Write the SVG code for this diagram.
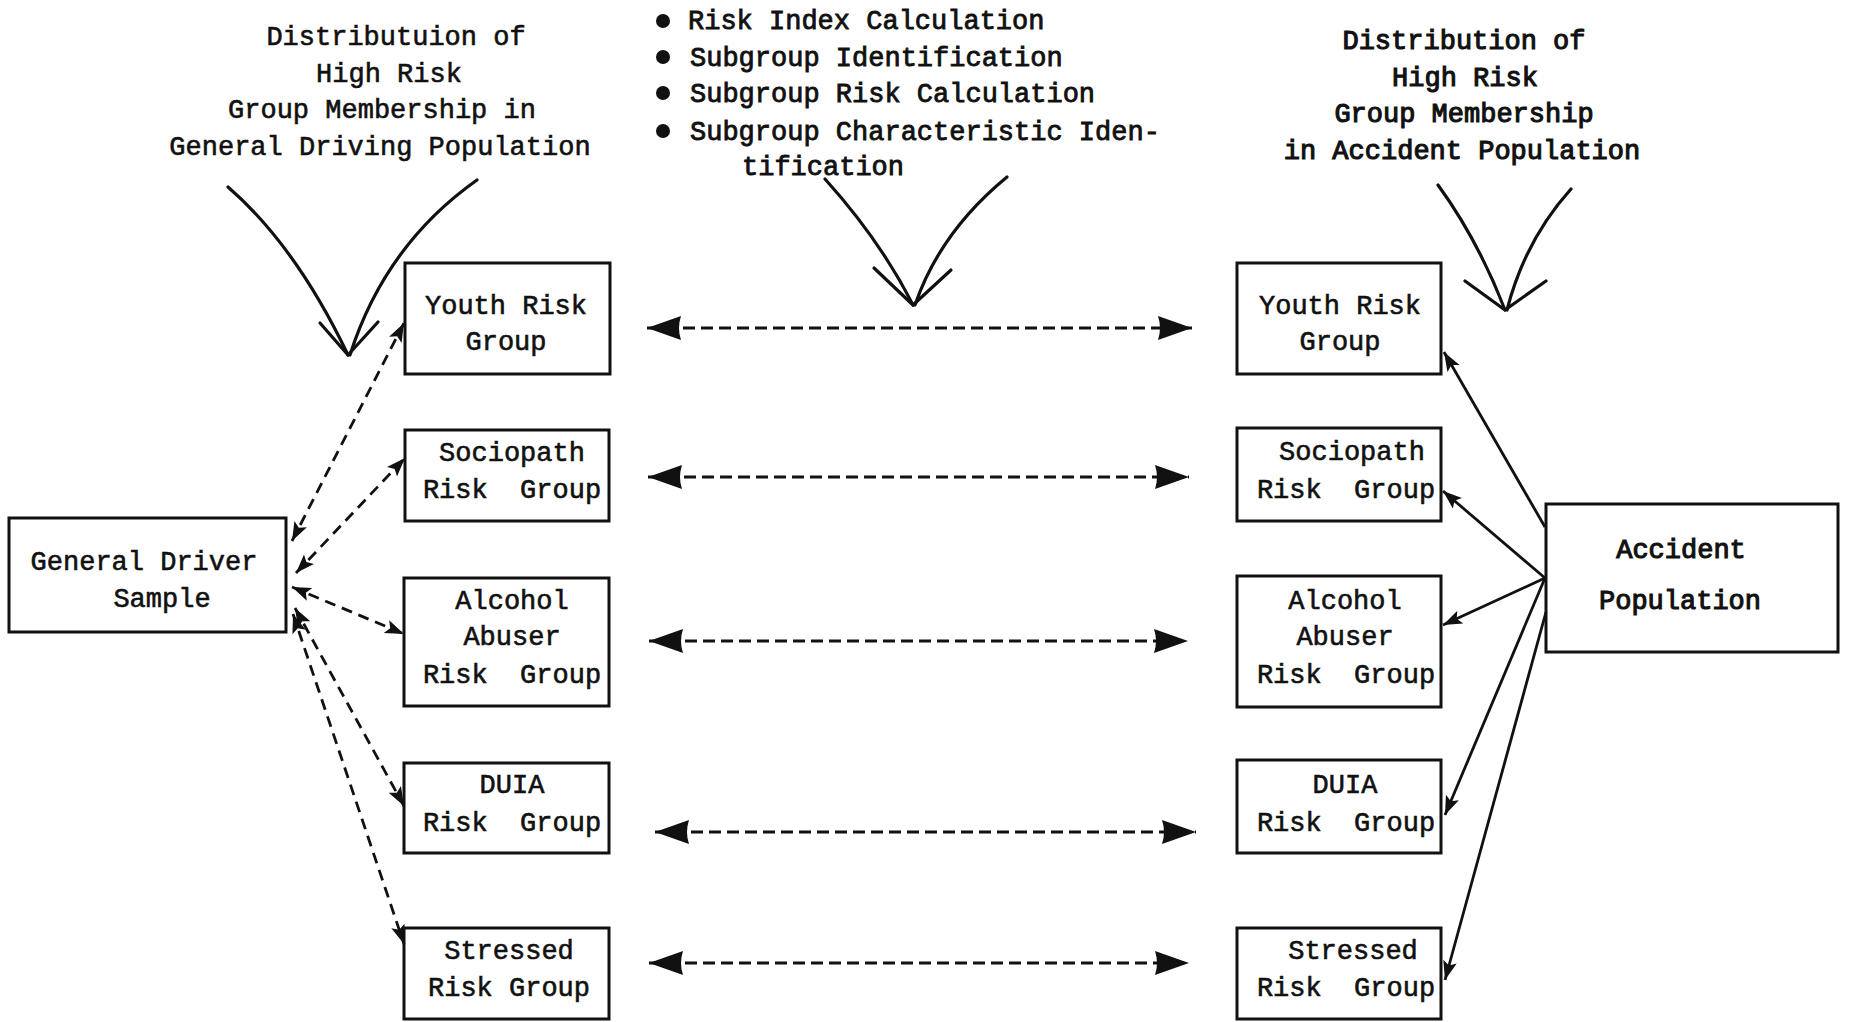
<svg xmlns="http://www.w3.org/2000/svg" width="1851" height="1022" viewBox="0 0 1851 1022">
<style>
text{font-family:"Liberation Mono","Courier New",monospace;font-size:27px;fill:#111;stroke:#111;stroke-width:0.6px}
.b{stroke-width:1.1px}
.m{stroke-width:0.85px}
.c{text-anchor:middle}
.box{fill:#fff;stroke:#111;stroke-width:3}
.dash{fill:none;stroke:#111;stroke-width:3;stroke-dasharray:12 6}
.sd{fill:none;stroke:#111;stroke-width:2.8;stroke-dasharray:11 7}
.sol{fill:none;stroke:#111;stroke-width:2.8}
.v{fill:none;stroke:#111;stroke-width:3.2;stroke-linecap:round;stroke-linejoin:round}
</style>
<defs>
<marker id="big" markerUnits="userSpaceOnUse" markerWidth="40" markerHeight="26" refX="34" refY="12" orient="auto-start-reverse">
<path d="M0,0 L34,12 L0,24 Q4,12 0,0 z" fill="#111"/>
</marker>
<marker id="sm" markerUnits="userSpaceOnUse" markerWidth="22" markerHeight="16" refX="19" refY="7" orient="auto-start-reverse">
<path d="M0,0 L19,7 L0,14 L4,7 z" fill="#111"/>
</marker>
</defs>
<rect width="1851" height="1022" fill="#fff"/>

<g id="title-left">
<text class="c" x="396" y="45">Distributuion of</text>
<text class="c" x="389" y="82">High Risk</text>
<text class="c" x="382" y="118">Group Membership in</text>
<text class="c" x="380" y="155">General Driving Population</text>
</g>
<g id="title-center">
<circle cx="663" cy="21" r="7" fill="#111"/>
<circle cx="663" cy="57" r="7" fill="#111"/>
<circle cx="663" cy="93" r="7" fill="#111"/>
<circle cx="663" cy="131" r="7" fill="#111"/>
<text class="m" x="688" y="29">Risk Index Calculation</text>
<text class="m" x="690" y="66">Subgroup Identification</text>
<text class="m" x="690" y="102">Subgroup Risk Calculation</text>
<text class="m" x="690" y="140">Subgroup Characteristic Iden-</text>
<text class="m" x="742" y="175">tification</text>
</g>
<g id="title-right">
<text class="c b" x="1464" y="49">Distribution of</text>
<text class="c b" x="1465" y="86">High Risk</text>
<text class="c b" x="1464" y="122">Group Membership</text>
<text class="c b" x="1462" y="159">in Accident Population</text>
</g>

<g id="general-driver">
<rect class="box" x="9" y="518" width="277" height="114"/>
<text class="c" x="144" y="570">General Driver</text>
<text class="c" x="162" y="607">Sample</text>
</g>
<g id="accident-population">
<rect class="box" x="1546" y="504" width="292" height="148"/>
<text class="c b" x="1681" y="558">Accident</text>
<text class="c b" x="1680" y="609">Population</text>
</g>

<g id="left-youth">
<rect class="box" x="405" y="263" width="205" height="111"/>
<text class="c" x="506" y="314">Youth Risk</text>
<text class="c" x="506" y="350">Group</text>
</g>
<g id="left-sociopath">
<rect class="box" x="405" y="430" width="204" height="91"/>
<text class="c" x="512" y="461">Sociopath</text>
<text class="c" x="512" y="498" xml:space="preserve">Risk  Group</text>
</g>
<g id="left-alcohol">
<rect class="box" x="404" y="578" width="205" height="128"/>
<text class="c" x="512" y="609">Alcohol</text>
<text class="c" x="512" y="645">Abuser</text>
<text class="c" x="512" y="683" xml:space="preserve">Risk  Group</text>
</g>
<g id="left-duia">
<rect class="box" x="404" y="763" width="205" height="90"/>
<text class="c" x="512" y="793">DUIA</text>
<text class="c" x="512" y="831" xml:space="preserve">Risk  Group</text>
</g>
<g id="left-stressed">
<rect class="box" x="404" y="928" width="205" height="91"/>
<text class="c" x="509" y="959">Stressed</text>
<text class="c" x="509" y="996">Risk Group</text>
</g>

<g id="right-youth">
<rect class="box" x="1237" y="263" width="204" height="111"/>
<text class="c" x="1340" y="314">Youth Risk</text>
<text class="c" x="1340" y="350">Group</text>
</g>
<g id="right-sociopath">
<rect class="box" x="1237" y="428" width="204" height="93"/>
<text class="c" x="1352" y="460">Sociopath</text>
<text class="c" x="1346" y="498" xml:space="preserve">Risk  Group</text>
</g>
<g id="right-alcohol">
<rect class="box" x="1237" y="576" width="204" height="131"/>
<text class="c" x="1345" y="609">Alcohol</text>
<text class="c" x="1345" y="645">Abuser</text>
<text class="c" x="1346" y="683" xml:space="preserve">Risk  Group</text>
</g>
<g id="right-duia">
<rect class="box" x="1237" y="760" width="204" height="93"/>
<text class="c" x="1345" y="793">DUIA</text>
<text class="c" x="1346" y="831" xml:space="preserve">Risk  Group</text>
</g>
<g id="right-stressed">
<rect class="box" x="1237" y="928" width="204" height="91"/>
<text class="c" x="1353" y="959">Stressed</text>
<text class="c" x="1346" y="996" xml:space="preserve">Risk  Group</text>
</g>

<g id="connectors">
<path class="v" d="M228,187 Q296,246 348,355"/>
<path class="v" d="M477,180 Q385,245 350,355"/>
<path class="v" d="M320,323 L348,355 L378,322"/>
<path class="v" d="M825,179 Q880,240 913,305"/>
<path class="v" d="M1007,177 Q940,232 915,305"/>
<path class="v" d="M874,268 L913,305 L951,270"/>
<path class="v" d="M1438,185 Q1478,240 1505,310"/>
<path class="v" d="M1571,189 Q1525,240 1507,310"/>
<path class="v" d="M1465,281 L1505,310 L1546,281"/>

<line class="dash" x1="647" y1="328" x2="1192" y2="328" marker-start="url(#big)" marker-end="url(#big)"/>
<line class="dash" x1="648" y1="477" x2="1189" y2="477" marker-start="url(#big)" marker-end="url(#big)"/>
<line class="dash" x1="649" y1="641" x2="1188" y2="641" marker-start="url(#big)" marker-end="url(#big)"/>
<line class="dash" x1="655" y1="832" x2="1196" y2="832" marker-start="url(#big)" marker-end="url(#big)"/>
<line class="dash" x1="649" y1="963" x2="1189" y2="963" marker-start="url(#big)" marker-end="url(#big)"/>

<line class="sd" x1="292" y1="541" x2="404" y2="323" marker-start="url(#sm)" marker-end="url(#sm)"/>
<line class="sd" x1="296" y1="573" x2="405" y2="458" marker-start="url(#sm)" marker-end="url(#sm)"/>
<line class="sd" x1="292" y1="587" x2="404" y2="634" marker-start="url(#sm)" marker-end="url(#sm)"/>
<line class="sd" x1="295" y1="608" x2="404" y2="806" marker-start="url(#sm)" marker-end="url(#sm)"/>
<line class="sd" x1="293" y1="614" x2="404" y2="944" marker-start="url(#sm)" marker-end="url(#sm)"/>

<line class="sol" x1="1545" y1="527" x2="1444" y2="352" marker-end="url(#sm)"/>
<line class="sol" x1="1545" y1="578" x2="1443" y2="491" marker-end="url(#sm)"/>
<line class="sol" x1="1545" y1="578" x2="1443" y2="625" marker-end="url(#sm)"/>
<line class="sol" x1="1545" y1="578" x2="1445" y2="815" marker-end="url(#sm)"/>
<line class="sol" x1="1546" y1="612" x2="1445" y2="980" marker-end="url(#sm)"/>
</g>
</svg>
